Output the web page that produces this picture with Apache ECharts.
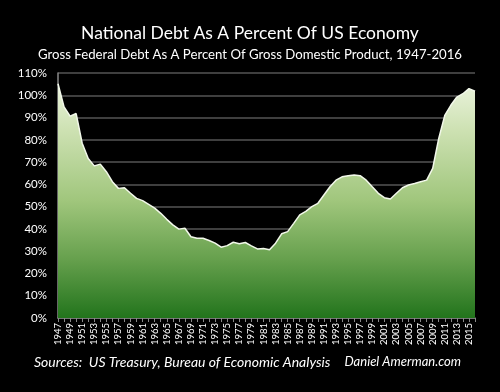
<!DOCTYPE html>
<html>
<head>
<meta charset="utf-8">
<script src="https://cdn.jsdelivr.net/npm/echarts@6/dist/echarts.min.js"></script>
<style>
html,body{margin:0;padding:0;background:#000;}
#c{width:500px;height:392px;}
</style>
</head>
<body>
<div id="c"></div>
<script>
const years = [];
for (let y = 1947; y <= 2016; y++) years.push(String(y));

const debtPct = [
  105.2, 94.8, 90.6, 91.8, 78.5, 71.6, 68.3, 69.1, 65.7, 61.2,
  58.2, 58.5, 56.0, 53.7, 52.7, 51.0, 49.3, 47.0, 44.3, 41.8,
  39.9, 40.3, 36.5, 35.8, 35.8, 34.8, 33.6, 31.8, 32.5, 34.0,
  33.3, 33.9, 32.4, 31.0, 31.2, 30.6, 33.6, 37.8, 38.8, 42.5,
  46.3, 47.9, 50.0, 51.5, 55.2, 58.9, 61.9, 63.4, 63.9, 64.2,
  63.9, 61.9, 58.9, 56.0, 54.0, 53.4, 56.0, 58.5, 59.7, 60.4,
  61.2, 61.9, 67.2, 80.6, 91.0, 95.5, 99.2, 100.7, 103.0, 101.8
];

const titleText = 'National Debt As A Percent Of US Economy';
const subtitleText = 'Gross Federal Debt As A Percent Of Gross Domestic Product, 1947-2016';
const sourceText = 'Sources:  US Treasury, Bureau of Economic Analysis';
const creditText = 'Daniel Amerman.com';

const chart = echarts.init(document.getElementById('c'), null, {renderer: 'canvas'});
const FONT = 'Lato, "Open Sans", sans-serif';

chart.setOption({
  backgroundColor: '#000',
  animation: false,
  grid: {left: 58, right: 25, top: 73, bottom: 74},
  title: [
    {text: titleText, left: 'center', top: 19,
     textStyle: {color: '#fff', fontFamily: FONT, fontSize: 17.5, fontWeight: 'normal'}},
    {text: subtitleText, left: 'center', top: 43,
     textStyle: {color: '#fff', fontFamily: FONT, fontSize: 13.2, fontWeight: 'normal'}}
  ],
  graphic: [
    {type: 'text', left: 34, top: 355,
     style: {text: sourceText, fill: '#fff', font: 'italic 14px ' + FONT}},
    {type: 'text', right: 39, top: 355,
     style: {text: creditText, fill: '#fff', font: 'italic 13px ' + FONT}}
  ],
  xAxis: {
    type: 'category',
    data: years,
    boundaryGap: false,
    axisLine: {show: true, lineStyle: {color: '#888', width: 1.5}},
    axisTick: {show: true, interval: 0, length: 4, lineStyle: {color: '#888'}},
    axisLabel: {interval: 1, rotate: 90, color: '#fff', fontFamily: FONT, fontSize: 9.5, margin: 5}
  },
  yAxis: {
    type: 'value',
    min: 0, max: 110, interval: 10,
    axisLine: {show: true, lineStyle: {color: '#888', width: 1.5}},
    axisTick: {show: false},
    axisLabel: {color: '#fff', fontFamily: FONT, fontSize: 11.5, margin: 11,
                formatter: v => v + '%'},
    splitLine: {show: true, lineStyle: {color: '#555', width: 1.5}}
  },
  series: [{
    type: 'line',
    data: debtPct,
    symbol: 'none',
    lineStyle: {color: '#f2f8ea', width: 1.5},
    areaStyle: {
      opacity: 1,
      color: new echarts.graphic.LinearGradient(0, 0, 0, 1, [
        {offset: 0, color: '#eaf3dc'},
        {offset: 0.2, color: '#cde1b2'},
        {offset: 0.5, color: '#a0c67c'},
        {offset: 0.75, color: '#66a04d'},
        {offset: 1, color: '#22741c'}
      ])
    }
  }]
});
</script>
</body>
</html>
